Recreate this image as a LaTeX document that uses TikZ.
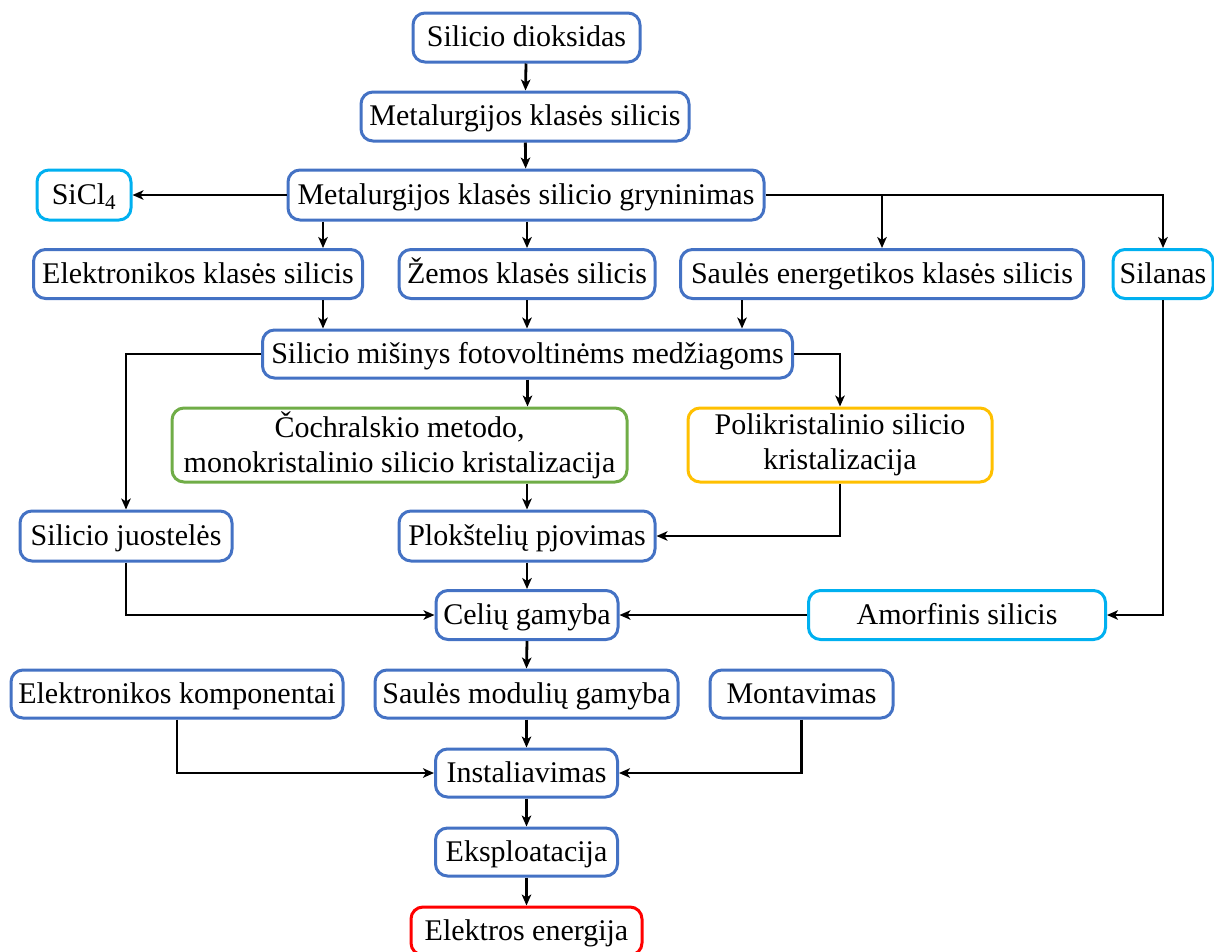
\documentclass[tikz,border=0pt]{standalone}
\usepackage{fontspec}
\setmainfont{Liberation Serif}
\usetikzlibrary{arrows.meta}
\definecolor{cblue}{HTML}{4472C4}
\definecolor{ccyan}{HTML}{00B0F0}
\definecolor{cgreen}{HTML}{70AD47}
\definecolor{corange}{HTML}{FFC000}
\definecolor{cred}{HTML}{FF0000}
\tikzset{
  base/.style={line width=3pt, rounded corners=12pt, fill=white, inner sep=0pt,
    align=center, font=\fontsize{30}{35}\selectfont},
  box/.style={base, draw=cblue, text height=24pt, text depth=6pt},
  cbox/.style={box, draw=ccyan},
  gbox/.style={base, draw=cgreen},
  obox/.style={base, draw=corange},
  rbox/.style={box, draw=cred},
  arr/.style={line width=2.8pt, -{Stealth[length=11pt,width=9.5pt,inset=3pt]}},
}
\begin{document}
\begin{tikzpicture}[x=1pt,y=-1pt]
\useasboundingbox (0,0) rectangle (1214,951);
\node[box, minimum width=227pt, minimum height=49pt] (sd) at (526.5,37.5) {Silicio dioksidas};
\node[box, minimum width=328pt, minimum height=49pt] (mk) at (525,116.5) {Metalurgijos klasės silicis};
\node[box, minimum width=476pt, minimum height=50pt] (gr) at (526,195) {Metalurgijos klasės silicio gryninimas};
\node[cbox, minimum width=94pt, minimum height=50pt] (sicl) at (84,195) {SiCl\textsubscript{4}};
\node[box, minimum width=329pt, minimum height=49pt] (ek) at (198,274) {Elektronikos klasės silicis};
\node[box, minimum width=256pt, minimum height=49pt] (zk) at (527,274) {Žemos klasės silicis};
\node[box, minimum width=403pt, minimum height=49pt] (se) at (882,274) {Saulės energetikos klasės silicis};
\node[cbox, minimum width=100pt, minimum height=49pt] (sil) at (1163,274) {Silanas};
\node[box, minimum width=530pt, minimum height=48pt] (mis) at (527.5,354) {Silicio mišinys fotovoltinėms medžiagoms};
\node[gbox, minimum width=455pt, minimum height=74pt] (cz) at (399.5,445) {Čochralskio metodo,\\monokristalinio silicio kristalizacija};
\node[obox, minimum width=304pt, minimum height=74pt] (pk) at (840,445) {Polikristalinio silicio\\kristalizacija};
\node[box, minimum width=212pt, minimum height=50pt] (sj) at (126,536) {Silicio juostelės};
\node[box, minimum width=256pt, minimum height=50pt] (pp) at (527,536) {Plokštelių pjovimas};
\node[box, minimum width=182pt, minimum height=49pt] (cg) at (527,615) {Celių gamyba};
\node[cbox, minimum width=297pt, minimum height=49pt] (am) at (957,615) {Amorfinis silicis};
\node[box, minimum width=332pt, minimum height=48pt] (ekm) at (177,694) {Elektronikos komponentai};
\node[box, minimum width=303pt, minimum height=48pt] (sm) at (526.5,694) {Saulės modulių gamyba};
\node[box, minimum width=183pt, minimum height=48pt] (mo) at (801.5,694) {Montavimas};
\node[box, minimum width=182pt, minimum height=48pt] (in) at (526.5,773) {Instaliavimas};
\node[box, minimum width=182pt, minimum height=48pt] (ex) at (526.5,852) {Eksploatacija};
\node[rbox, minimum width=231pt, minimum height=48pt] (ee) at (526.5,931) {Elektros energija};
\coordinate (xa) at (323,0);
\coordinate (xb) at (742,0);
\draw[arr] (sd) -- (mk);
\draw[arr] (mk) -- (gr);
\draw[arr] (gr.west) -- (sicl.east);
\draw[arr] (gr.south -| xa) -- (ek.north -| xa);
\draw[arr] (gr.south -| zk.north) -- (zk.north);
\draw[arr] (gr.east) -- (gr.east -| sil.north) -- (sil.north);
\draw[arr] (gr.east -| se.north) -- (se.north);
\draw[arr] (ek.south -| xa) -- (mis.north -| xa);
\draw[arr] (zk.south) -- (zk.south |- mis.north);
\draw[arr] (se.south -| xb) -- (mis.north -| xb);
\draw[arr] (mis.west) -- (mis.west -| sj.north) -- (sj.north);
\draw[arr] (mis.east) -- (mis.east -| pk.north) -- (pk.north);
\draw[arr] (mis.south) -- (mis.south |- cz.north);
\draw[arr] (pp.north |- cz.south) -- (pp.north);
\draw[arr] (pk.south) -- (pk.south |- pp.east) -- (pp.east);
\draw[arr] (pp.south) -- (cg.north);
\draw[arr] (sj.south) -- (sj.south |- cg.west) -- (cg.west);
\draw[arr] (sil.south) -- (sil.south |- am.east) -- (am.east);
\draw[arr] (am.west) -- (cg.east);
\draw[arr] (cg.south) -- (sm.north);
\draw[arr] (ekm.south) -- (ekm.south |- in.west) -- (in.west);
\draw[arr] (sm.south) -- (in.north);
\draw[arr] (mo.south) -- (mo.south |- in.east) -- (in.east);
\draw[arr] (in) -- (ex);
\draw[arr] (ex) -- (ee);
\end{tikzpicture}
\end{document}
